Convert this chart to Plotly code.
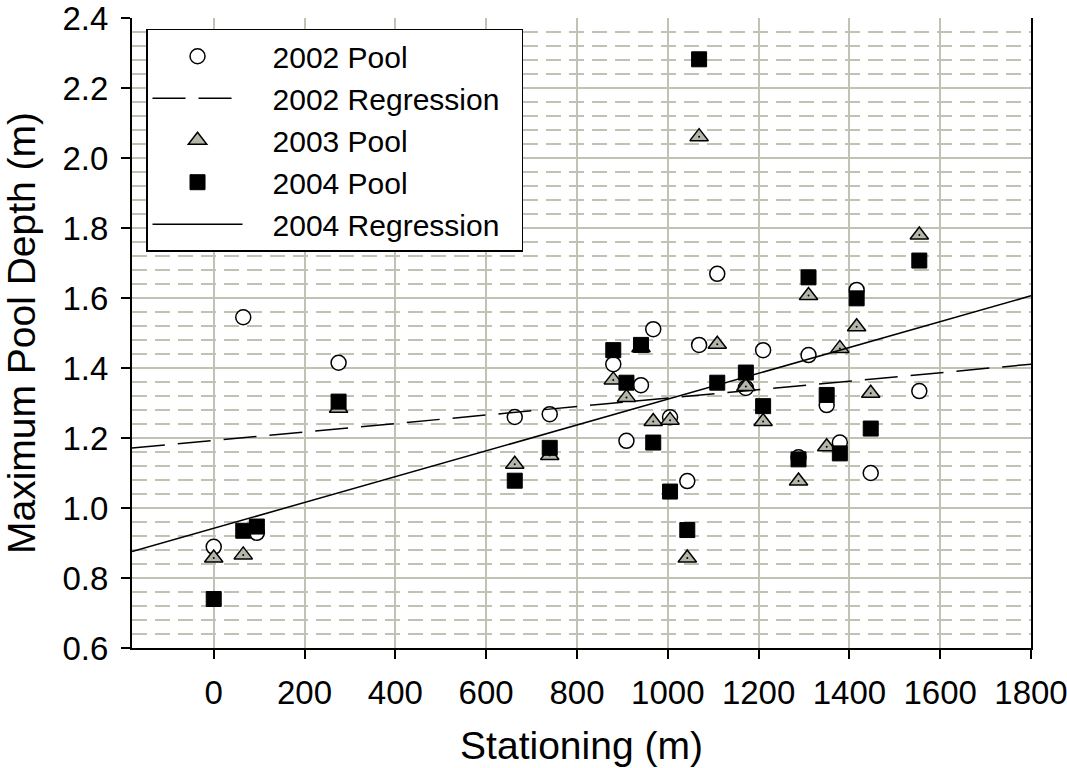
import plotly.graph_objects as go

# ---------------- data ----------------
stations = [0, 65, 95, 275, 663, 740, 880, 909, 941, 968, 1005, 1043, 1069,
            1109, 1172, 1210, 1288, 1310, 1350, 1379, 1416, 1447, 1554]

pool_2002 = [0.889, 1.545, 0.929, 1.415, 1.260, 1.268, 1.411, 1.192, 1.351, 1.511,
             1.259, 1.077, 1.466, 1.669, 1.343, 1.451, 1.145, 1.437, 1.294, 1.187,
             1.623, 1.100, 1.334]
pool_2003 = [0.857, 0.866, None, 1.285, 1.125, 1.150, 1.366, 1.316, 1.458, 1.247,
             1.251, 0.857, 2.061, 1.468, 1.347, 1.247, 1.077, 1.607, 1.175, 1.456,
             1.518, 1.328, 1.780]
pool_2004 = [0.740, 0.935, 0.947, 1.304, 1.078, 1.172, 1.451, 1.358, 1.466, 1.187,
             1.047, 0.937, 2.282, 1.358, 1.387, 1.291, 1.139, 1.659, 1.323, 1.156,
             1.599, 1.227, 1.707]

# regression coefficients (intercept, slope per m)
reg_2002 = (1.193, 0.000121)
reg_2004 = (0.942, 0.000369)

series_names = ["2002 Pool", "2002 Regression", "2003 Pool", "2004 Pool", "2004 Regression"]

x_range = [-180, 1800]
y_range = [0.6, 2.4]
x_ticks = [0, 200, 400, 600, 800, 1000, 1200, 1400, 1600, 1800]
y_ticks = [0.6, 0.8, 1.0, 1.2, 1.4, 1.6, 1.8, 2.0, 2.2, 2.4]

# ---------------- figure ----------------
GRID = "#c2c2b4"
FONT = "Liberation Sans, Arial, sans-serif"
NARROW = "Liberation Sans Narrow, Arial Narrow, Liberation Sans"
PAD = "\u00a0\u00a0\u00a0"
TAIL = "\u00a0\u00a0"


def label(i):
    return PAD + series_names[i] + TAIL


fig = go.Figure()

fig.add_trace(go.Scatter(
    x=stations, y=pool_2002, mode="markers", name=label(0),
    marker=dict(symbol="circle", size=15, color="white",
                line=dict(color="black", width=1.5))))

fig.add_trace(go.Scatter(
    x=x_range, y=[reg_2002[0] + reg_2002[1] * v for v in x_range],
    mode="lines", name=label(1),
    line=dict(color="black", width=1.5, dash="33px,13px")))

fig.add_trace(go.Scatter(
    x=stations, y=pool_2003, mode="markers", name=label(2),
    marker=dict(symbol="triangle-up", size=16, color="#b5b5a9",
                line=dict(color="black", width=1.5))))

fig.add_trace(go.Scatter(
    x=stations, y=pool_2003, mode="markers", showlegend=False, hoverinfo="skip",
    marker=dict(symbol="circle", size=2, color="black", line=dict(width=0))))

fig.add_trace(go.Scatter(
    x=stations, y=pool_2004, mode="markers", name=label(3),
    marker=dict(symbol="square", size=15, color="black",
                line=dict(color="black", width=1))))

fig.add_trace(go.Scatter(
    x=x_range, y=[reg_2004[0] + reg_2004[1] * v for v in x_range],
    mode="lines", name=label(4),
    line=dict(color="black", width=1.5)))

fig.update_layout(
    width=1067, height=768,
    margin=dict(l=132, r=36, t=18, b=120, autoexpand=False),
    paper_bgcolor="white", plot_bgcolor="white",
    font=dict(family=FONT, size=28, color="black"),
    showlegend=True,
    legend=dict(
        x=0.0156, y=0.983, xanchor="left", yanchor="top",
        bgcolor="white", bordercolor="black", borderwidth=1.5,
        font=dict(family=FONT, size=30, color="black"),
        itemwidth=90, tracegroupgap=0, traceorder="normal",
    ),
)

fig.update_xaxes(
    range=x_range, tickmode="array", tickvals=x_ticks,
    ticktext=[str(v) for v in x_ticks],
    tickfont=dict(family=NARROW, size=33),
    showline=True, linecolor="black", linewidth=2, mirror=False,
    ticks="outside", ticklen=9, tickwidth=1.5, tickcolor="black",
    ticklabelstandoff=5, ticklabeloverflow="allow",
    showgrid=True, gridcolor=GRID, gridwidth=2, zeroline=False,
    automargin=False,
    title=dict(text="Stationing (m)", font=dict(family=FONT, size=39), standoff=22),
)

fig.update_yaxes(
    range=y_range, tickmode="array", tickvals=y_ticks,
    ticktext=[f"{v:.1f}" for v in y_ticks],
    tickfont=dict(family=FONT, size=33),
    showline=True, linecolor="black", linewidth=2, mirror=True,
    ticks="outside", ticklen=9, tickwidth=1.5, tickcolor="black",
    ticklabelstandoff=6, ticklabeloverflow="allow",
    showgrid=True, gridcolor=GRID, gridwidth=2, zeroline=False,
    automargin=False,
    minor=dict(tick0=0.6, dtick=0.04, showgrid=True, gridcolor=GRID,
               gridwidth=1.5, griddash="15px,8px", ticks=""),
    title=dict(text="Maximum Pool Depth (m)", font=dict(family=FONT, size=39), standoff=18),
)

# remove the browser's default 8px body margin so the figure fills the window
fig.write_html(
    "out.html",
    config={"displayModeBar": False},
    post_script="document.body.style.margin='0';document.body.style.overflow='hidden';",
)
